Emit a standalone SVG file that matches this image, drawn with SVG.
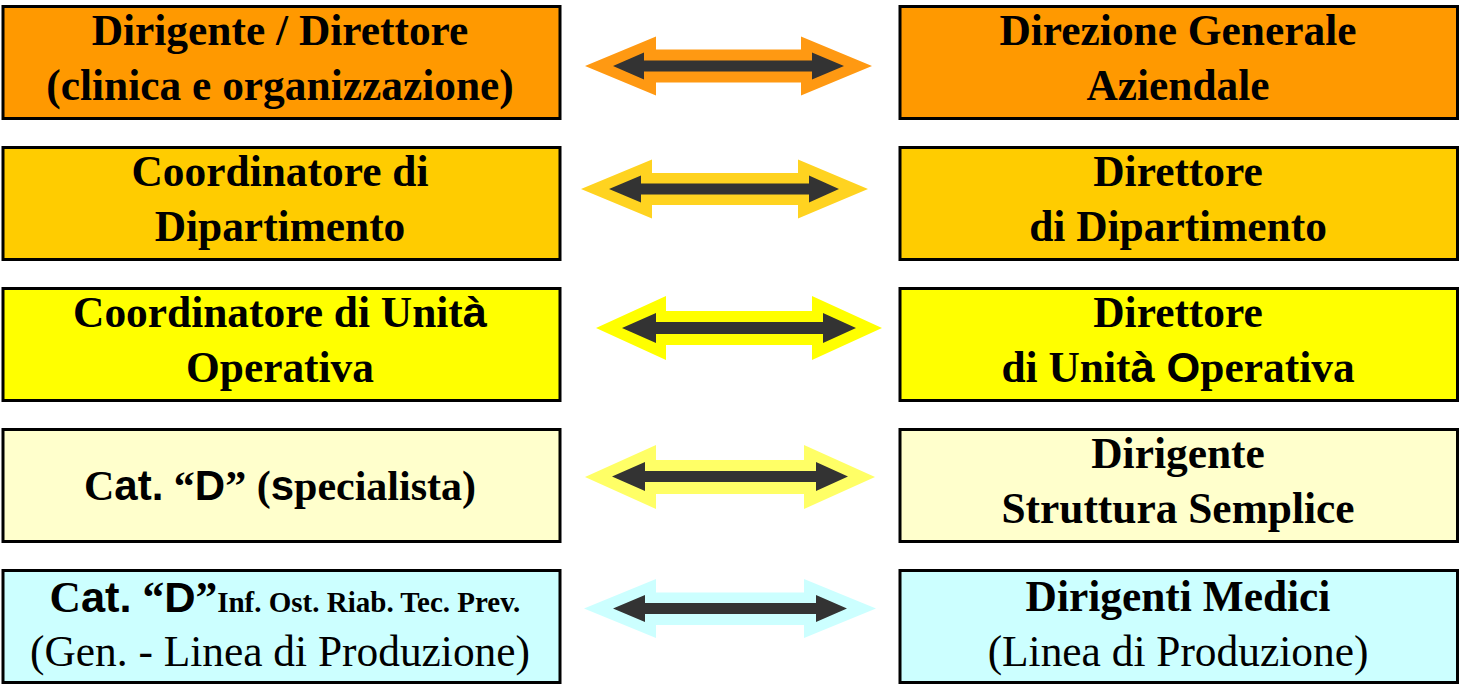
<svg xmlns="http://www.w3.org/2000/svg" width="1462" height="685" viewBox="0 0 1462 685">
<style>
.box{stroke:#000;stroke-width:3}
.t{font-family:"Liberation Serif","Times New Roman",serif;font-weight:bold;font-size:43.4px;fill:#000;text-anchor:middle}
.r{font-weight:normal}
.s{font-family:"Liberation Sans",Arial,sans-serif;font-weight:bold}
.sm{font-size:29px}
.c4{font-size:42px}
.in{fill:#333333}
</style>
<rect width="1462" height="685" fill="#fff"/>
<g id="connectors">
<g id="arrow1">
<polygon fill="#FF9912" points="585,66 656,36.5 656,49.5 801,49.5 801,36.5 872,66 801,95.5 801,82.5 656,82.5 656,95.5"/>
<polygon class="in" points="613,66 644,52.5 644,60.5 812,60.5 812,52.5 844,66 812,79.5 812,71.5 644,71.5 644,79.5"/>
</g>
<g id="arrow2">
<polygon fill="#FFD320" points="581,189 652,159.5 652,173 798,173 798,159.5 868,189 798,218.5 798,205 652,205 652,218.5"/>
<polygon class="in" points="609,189 641,175.5 641,183.5 809,183.5 809,175.5 839,189 809,202.5 809,194.5 641,194.5 641,202.5"/>
</g>
<g id="arrow3">
<polygon fill="#FFFF00" points="596,328 666,296 666,311 812,311 812,296 882,328 812,360 812,345 666,345 666,360"/>
<polygon class="in" points="622,328 656,313 656,322 823,322 823,313 856,328 823,343 823,334 656,334 656,343"/>
</g>
<g id="arrow4">
<polygon fill="#FFFF66" points="585,477 656,445 656,460 804,460 804,445 875,477 804,509 804,494 656,494 656,509"/>
<polygon class="in" points="612,476.5 645,462 645,471 816,471 816,462 848,476.5 816,491 816,482 645,482 645,491"/>
</g>
<g id="arrow5">
<polygon fill="#CCFFFF" points="584,608.5 656,579 656,592.5 804,592.5 804,579 876,608.5 804,638 804,625 656,625 656,638"/>
<polygon class="in" points="613,608.5 645,595 645,603 816,603 816,595 847,608.5 816,622 816,614 645,614 645,622"/>
</g>
</g>
<g id="left1">
<rect class="box" x="3" y="6.5" width="557" height="112" fill="#FF9900"/>
<text class="t" x="280" y="45">Dirigente / Direttore</text>
<text class="t" x="280" y="100">(clinica e organizzazione)</text>
</g>
<g id="right1">
<rect class="box" x="900" y="6.5" width="557.5" height="112" fill="#FF9900"/>
<text class="t" x="1178" y="45">Direzione Generale</text>
<text class="t" x="1178" y="100">Aziendale</text>
</g>
<g id="left2">
<rect class="box" x="3" y="147.5" width="557" height="112" fill="#FFCC00"/>
<text class="t" x="280" y="186">Coordinatore di</text>
<text class="t" x="280" y="241">Dipartimento</text>
</g>
<g id="right2">
<rect class="box" x="900" y="147.5" width="557.5" height="112" fill="#FFCC00"/>
<text class="t" x="1178" y="186">Direttore</text>
<text class="t" x="1178" y="241">di Dipartimento</text>
</g>
<g id="left3">
<rect class="box" x="3" y="288.5" width="557" height="112" fill="#FFFF00"/>
<text class="t" x="280" y="327">Coordinatore di Unit<tspan class="s">à</tspan></text>
<text class="t" x="280" y="382">Operativa</text>
</g>
<g id="right3">
<rect class="box" x="900" y="288.5" width="557.5" height="112" fill="#FFFF00"/>
<text class="t" x="1178" y="327">Direttore</text>
<text class="t" x="1178" y="382">di Unit<tspan class="s">à O</tspan>perativa</text>
</g>
<g id="left4">
<rect class="box" x="3" y="429.5" width="557" height="112" fill="#FFFFCC"/>
<text class="t c4" x="280" y="500">C<tspan class="s">at.</tspan> “<tspan class="s">D</tspan>” (<tspan class="s">s</tspan>pecialista)</text>
</g>
<g id="right4">
<rect class="box" x="900" y="429.5" width="557.5" height="112" fill="#FFFFCC"/>
<text class="t" x="1178" y="468">Dirigente</text>
<text class="t" x="1178" y="523">Struttura Semplice</text>
</g>
<g id="left5">
<rect class="box" x="3" y="570.5" width="557" height="112" fill="#CCFFFF"/>
<text class="t" x="285" y="612">C<tspan class="s">at.</tspan> “<tspan class="s">D</tspan>”<tspan class="sm">Inf. Ost. Riab. Tec. Prev.</tspan></text>
<text class="t r" x="280" y="666">(Gen. - Linea di Produzione)</text>
</g>
<g id="right5">
<rect class="box" x="900" y="570.5" width="557.5" height="112" fill="#CCFFFF"/>
<text class="t" x="1178" y="611">Dirigenti Medici</text>
<text class="t r" x="1178" y="666">(Linea di Produzione)</text>
</g>
</svg>
